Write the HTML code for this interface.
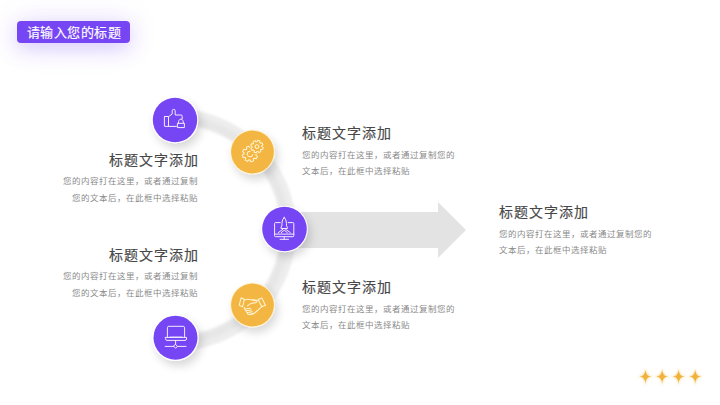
<!DOCTYPE html>
<html lang="zh-CN"><head><meta charset="utf-8">
<style>
html,body{margin:0;padding:0;}
body{width:720px;height:405px;overflow:hidden;background:#fff;position:relative;font-family:"Liberation Sans",sans-serif;}
.abs{position:absolute;}
svg.bg{position:absolute;left:0;top:0;}
.badge{left:17px;top:21px;width:113px;height:22px;background:#7646f5;border-radius:4px;box-shadow:0 5px 20px rgba(118,70,245,0.26),0 0 36px rgba(118,70,245,0.10);}
.badge span{position:absolute;left:9.5px;top:3.6px;color:#fff;font-size:13px;letter-spacing:0.5px;line-height:16px;white-space:nowrap;-webkit-text-stroke:0.15px #fff;}
.t{position:absolute;font-size:14px;letter-spacing:1px;line-height:18px;color:#474747;white-space:nowrap;-webkit-text-stroke:0.15px #474747;}
.d{position:absolute;font-size:8.5px;letter-spacing:0px;line-height:16.5px;color:#8a8a8a;white-space:nowrap;}
.t.r{margin-right:-1px;}
.d.r{margin-right:0px;}
.r{text-align:right;}
</style></head>
<body>
<svg class="bg" width="720" height="405" viewBox="0 0 720 405">
  <defs>
    <filter id="sh" x="-50%" y="-50%" width="200%" height="200%">
      <feGaussianBlur in="SourceAlpha" stdDeviation="5"/>
      <feOffset dx="3" dy="5"/>
      <feComponentTransfer><feFuncA type="linear" slope="0.16"/></feComponentTransfer>
      <feMerge><feMergeNode/><feMergeNode in="SourceGraphic"/></feMerge>
    </filter>
    <filter id="soft2" x="-20%" y="-20%" width="140%" height="140%"><feGaussianBlur stdDeviation="2.2"/></filter>
    <filter id="soft" x="-20%" y="-20%" width="140%" height="140%">
      <feGaussianBlur stdDeviation="1.0"/>
    </filter>
  </defs>
  <!-- arrow -->
  <path d="M285 212 H438 V202 L466 230 L438 258 V248 H285 Z" fill="#e3e3e3"/>
  <!-- arc -->
  <path d="M175 116.6 A113.4 113.4 0 0 1 175.5 343.4" fill="none" stroke="#eeeeee" stroke-width="15" filter="url(#soft)"/>
  <path d="M175 119.6 A110.4 110.4 0 0 1 175.5 340.4" fill="none" stroke="#e6e6e6" stroke-width="8" filter="url(#soft2)"/>
  <!-- circles -->
  <g filter="url(#sh)">
    <circle cx="175" cy="120" r="23.2" fill="#fff"/>
    <circle cx="252.5" cy="152" r="22.4" fill="#fff3d6"/>
    <circle cx="284.5" cy="229" r="23.2" fill="#fff"/>
    <circle cx="252.5" cy="305" r="22.4" fill="#fff3d6"/>
    <circle cx="175.5" cy="337.7" r="23.2" fill="#fff"/>
  </g>
  <circle cx="175" cy="120" r="22.2" fill="#7646f5"/>
  <circle cx="252.5" cy="152" r="21.4" fill="#f4b642"/>
  <circle cx="284.5" cy="229" r="22.3" fill="#7646f5"/>
  <circle cx="252.5" cy="305" r="21.4" fill="#f4b642"/>
  <circle cx="175.5" cy="337.7" r="22.0" fill="#7646f5"/>
  <!-- icon1 thumb+lock -->
  <g transform="translate(175,120)" fill="none" stroke="#f3ecff" stroke-width="1.0" stroke-linejoin="round" stroke-linecap="round">
    <rect x="-10.6" y="-3.5" width="4.1" height="9.9" rx="0.4"/>
    <path d="M-6.5,-3.3 L-2.8,-6 L-2.8,-9.3 Q-2.8,-10.6 -1.3,-10.6 Q0.2,-10.6 0.2,-9.3 L0.2,-5 L6,-5 Q7.2,-5 7.2,-3.8 L7.2,-1.2"/>
    <path d="M-6.5,6.4 L1.4,6.4"/>
    <path d="M2.4,7.2 L2.4,3.3 L9.4,3.3 L9.4,7.2 Z"/>
    <path d="M3.4,3.3 Q3.4,-0.9 5.9,-0.9 Q8.4,-0.9 8.4,3.3"/>
  </g>
  <!-- icon2 gears -->
  <g transform="translate(252.5,152)" fill="none" stroke="#fff4d2" stroke-width="1.05" stroke-linejoin="round">
    <path d="M3.38,3.19 L4.91,4.44 L3.61,6.85 L1.73,6.26 L0.82,7.00 L1.02,8.96 L-1.61,9.75 L-2.52,8.00 L-3.69,7.88 L-4.94,9.41 L-7.35,8.11 L-6.76,6.23 L-7.50,5.32 L-9.46,5.52 L-10.25,2.89 L-8.50,1.98 L-8.38,0.81 L-9.91,-0.44 L-8.61,-2.85 L-6.73,-2.26 L-5.82,-3.00 L-6.02,-4.96 L-3.39,-5.75 L-2.48,-4.00 L-1.31,-3.88 L-0.06,-5.41 L2.35,-4.11 L1.76,-2.23 L2.50,-1.32 L4.46,-1.52 L5.25,1.11 L3.50,2.02 L3.38,3.19 Z"/>
    <path d="M0.3,2 A2.8,2.8 0 1 1 -2.0,-0.76"/>
    <path d="M9.40,-5.40 L10.76,-4.66 L10.11,-2.54 L8.57,-2.68 L7.96,-1.94 L8.40,-0.45 L6.45,0.59 L5.46,-0.59 L4.50,-0.50 L3.76,0.86 L1.64,0.21 L1.78,-1.33 L1.04,-1.94 L-0.45,-1.50 L-1.49,-3.45 L-0.31,-4.44 L-0.40,-5.40 L-1.76,-6.14 L-1.11,-8.26 L0.43,-8.12 L1.04,-8.86 L0.60,-10.35 L2.55,-11.39 L3.54,-10.21 L4.50,-10.30 L5.24,-11.66 L7.36,-11.01 L7.22,-9.47 L7.96,-8.86 L9.45,-9.30 L10.49,-7.35 L9.31,-6.36 L9.40,-5.40 Z" fill="#f4b642" stroke="#f4b642" stroke-width="2.6"/>
    <path d="M9.40,-5.40 L10.76,-4.66 L10.11,-2.54 L8.57,-2.68 L7.96,-1.94 L8.40,-0.45 L6.45,0.59 L5.46,-0.59 L4.50,-0.50 L3.76,0.86 L1.64,0.21 L1.78,-1.33 L1.04,-1.94 L-0.45,-1.50 L-1.49,-3.45 L-0.31,-4.44 L-0.40,-5.40 L-1.76,-6.14 L-1.11,-8.26 L0.43,-8.12 L1.04,-8.86 L0.60,-10.35 L2.55,-11.39 L3.54,-10.21 L4.50,-10.30 L5.24,-11.66 L7.36,-11.01 L7.22,-9.47 L7.96,-8.86 L9.45,-9.30 L10.49,-7.35 L9.31,-6.36 L9.40,-5.40 Z"/>
    <circle cx="4.5" cy="-5.4" r="1.9"/>
  </g>
  <!-- icon3 monitor rocket -->
  <g transform="translate(284.5,229)" fill="none" stroke="#f3ecff" stroke-width="1.0" stroke-linejoin="round" stroke-linecap="round">
    <path d="M-4.3,-6.4 L-9,-6.4 Q-9.9,-6.4 -9.9,-5.5 L-9.9,6.8 Q-9.9,7.7 -9,7.7 L8.4,7.7 Q9.3,7.7 9.3,6.8 L9.3,-5.5 Q9.3,-6.4 8.4,-6.4 L3.7,-6.4"/>
    <path d="M-9.9,5.1 L9.3,5.1"/>
    <path d="M-4.4,10.3 L4.1,10.3 M-0.3,7.7 L-0.3,10.3"/>
    <path d="M-0.3,-11.6 Q-2.6,-9.5 -2.6,-5.5 L-2.6,-3.2 L-3.5,-1.8 L-3.5,-0.5 L2.9,-0.5 L2.9,-1.8 L2.0,-3.2 L2.0,-5.5 Q2.0,-9.5 -0.3,-11.6 Z"/>
    <path d="M-6.2,3.6 L-1.5,0.2 M1,0.2 L5.8,3.6 M-3.2,3.6 L-0.3,1.2 L2.8,3.6"/>
  </g>
  <!-- icon4 handshake -->
  <g transform="translate(252.5,305)" fill="none" stroke="#fff4d2" stroke-width="1.05" stroke-linejoin="round" stroke-linecap="round">
    <path d="M-11.4,-7.2 L-8.1,-5.7 L-9.9,1.7 L-13.3,0.2 Z"/>
    <path d="M5.6,-5.4 L9.3,-6.9 L13,0.2 L9.3,1.7 Z"/>
    <path d="M-8.3,-4.9 Q-5.5,-5.9 -3.3,-5.6 L2.3,-4.6 Q4.6,-4 4.1,-2.8 Q3.6,-2 0.4,-1.9 L-2.6,-0.9 L-5.1,0.9"/>
    <path d="M6.1,-4.6 L-0.3,-5.3"/>
    <path d="M9.6,1.3 L2.2,8 Q0.4,9.4 -3.6,9.4"/>
    <path d="M-8,2.4 Q-8.9,3.6 -7.3,4.1 L-2,3.3 M-7.3,4.1 Q-8,5.5 -6.2,5.8 L-1.2,5 M-6.2,5.8 Q-6.7,7.3 -5,7.5 L-0.2,6.8 M-5,7.5 Q-5.3,9.2 -3.6,9.4 L0.6,8.7"/>
  </g>
  <!-- icon5 laptop -->
  <g fill="none" stroke="#f3ecff" stroke-width="1.0" stroke-linejoin="round" stroke-linecap="round">
    <path d="M167.4,337.4 L167.4,327.8 Q167.4,326.3 168.9,326.3 L183.1,326.3 Q184.6,326.3 184.6,327.8 L184.6,337.4"/>
    <path d="M165.5,337.4 L186.5,337.4 L186.5,339 Q186.5,340.4 185,340.4 L167,340.4 Q165.5,340.4 165.5,339 Z"/>
    <path d="M170,337.1 L182,337.1"/>
    <path d="M175.6,340.4 L175.6,344.5"/>
    <path d="M175.6,344.5 L177.4,346.4 L175.6,348.3 L173.8,346.4 Z"/>
    <path d="M165.2,346.4 L173.8,346.4 M177.4,346.4 L186,346.4"/>
  </g>
  <!-- stars -->
  <defs><filter id="glow" x="-100%" y="-100%" width="300%" height="300%"><feGaussianBlur stdDeviation="1.0"/></filter></defs>
  <path d="M645.4,367.1 Q645.60,376.40 653.4,376.6 Q645.60,376.80 645.4,386.6 Q645.20,376.80 637.4,376.6 Q645.20,376.40 645.4,367.1 Z" fill="#f3bb50" opacity="0.45" filter="url(#glow)"/>
  <path d="M645.4,369.6 Q645.65,376.35 651.4,376.6 Q645.65,376.85 645.4,384.1 Q645.15,376.85 639.4,376.6 Q645.15,376.35 645.4,369.6 Z" fill="#f1b23a"/>
  <path d="M662.1,367.1 Q662.30,376.40 670.1,376.6 Q662.30,376.80 662.1,386.6 Q661.90,376.80 654.1,376.6 Q661.90,376.40 662.1,367.1 Z" fill="#f3bb50" opacity="0.45" filter="url(#glow)"/>
  <path d="M662.1,369.6 Q662.35,376.35 668.1,376.6 Q662.35,376.85 662.1,384.1 Q661.85,376.85 656.1,376.6 Q661.85,376.35 662.1,369.6 Z" fill="#f1b23a"/>
  <path d="M678.6,367.1 Q678.80,376.40 686.6,376.6 Q678.80,376.80 678.6,386.6 Q678.40,376.80 670.6,376.6 Q678.40,376.40 678.6,367.1 Z" fill="#f3bb50" opacity="0.45" filter="url(#glow)"/>
  <path d="M678.6,369.6 Q678.85,376.35 684.6,376.6 Q678.85,376.85 678.6,384.1 Q678.35,376.85 672.6,376.6 Q678.35,376.35 678.6,369.6 Z" fill="#f1b23a"/>
  <path d="M695.2,367.1 Q695.40,376.40 703.2,376.6 Q695.40,376.80 695.2,386.6 Q695.00,376.80 687.2,376.6 Q695.00,376.40 695.2,367.1 Z" fill="#f3bb50" opacity="0.45" filter="url(#glow)"/>
  <path d="M695.2,369.6 Q695.45,376.35 701.2,376.6 Q695.45,376.85 695.2,384.1 Q694.95,376.85 689.2,376.6 Q694.95,376.35 695.2,369.6 Z" fill="#f1b23a"/>
</svg>

<div class="abs badge"><span>请输入您的标题</span></div>

<div class="t r" style="right:522px;top:151px;">标题文字添加</div>
<div class="d r" style="right:522px;top:173px;">您的内容打在这里，或者通过复制<br>您的文本后，在此框中选择粘贴</div>

<div class="t r" style="right:522px;top:246px;">标题文字添加</div>
<div class="d r" style="right:522px;top:268px;">您的内容打在这里，或者通过复制<br>您的文本后，在此框中选择粘贴</div>

<div class="t" style="left:302px;top:124px;">标题文字添加</div>
<div class="d" style="left:302px;top:146.5px;">您的内容打在这里，或者通过复制您的<br>文本后，在此框中选择粘贴</div>

<div class="t" style="left:302px;top:278px;">标题文字添加</div>
<div class="d" style="left:302px;top:300.5px;">您的内容打在这里，或者通过复制您的<br>文本后，在此框中选择粘贴</div>

<div class="t" style="left:499px;top:203px;">标题文字添加</div>
<div class="d" style="left:499px;top:225.5px;">您的内容打在这里，或者通过复制您的<br>文本后，在此框中选择粘贴</div>

</body></html>
